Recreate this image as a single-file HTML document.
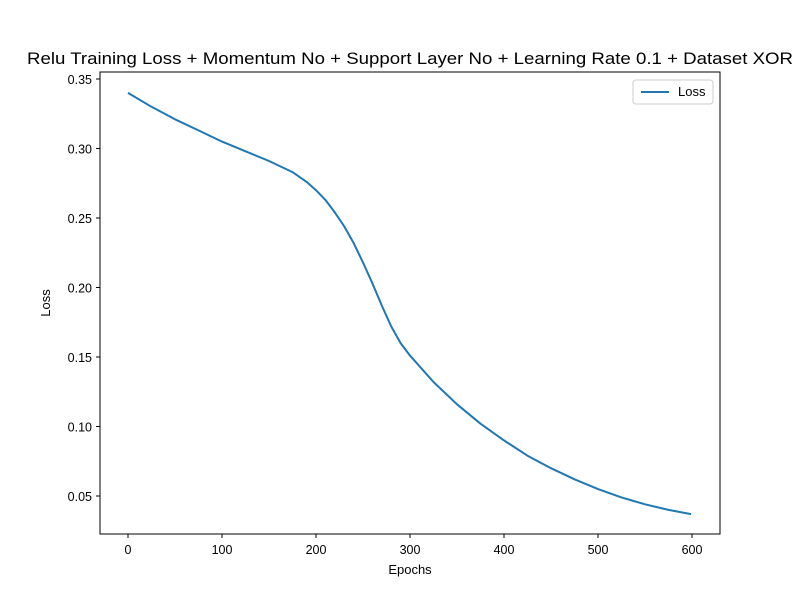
<!DOCTYPE html>
<html><head><meta charset="utf-8"><style>
body{margin:0;background:#fff;}
svg{font-family:"Liberation Sans","DejaVu Sans",sans-serif;}
</style></head><body>
<svg id="chart" width="800" height="600" xmlns="http://www.w3.org/2000/svg">
<rect width="800" height="600" fill="#fff"/>
<text x="410" y="64" text-anchor="middle" font-size="17" textLength="766" lengthAdjust="spacingAndGlyphs">Relu Training Loss + Momentum No + Support Layer No + Learning Rate 0.1 + Dataset XOR</text>
<g id="ticks"></g>
<path id="line" fill="none" stroke="#1f77b4" stroke-width="2" stroke-linejoin="round"/>
<rect x="100" y="72" width="620" height="462" fill="none" stroke="#000" stroke-width="1"/>
<text x="410" y="574" text-anchor="middle" font-size="13">Epochs</text>
<text x="50" y="303" text-anchor="middle" font-size="13" transform="rotate(-90 50 303)">Loss</text>
<g>
<rect x="633" y="80" width="80" height="24" rx="3" fill="#fff" stroke="#ccc"/>
<line x1="641" y1="92" x2="669" y2="92" stroke="#1f77b4" stroke-width="2"/>
<text x="678" y="96" font-size="13">Loss</text>
</g>
</svg>
<script>
const epochs=[0,25,50,75,100,125,150,175,190,200,210,220,230,240,250,260,270,280,290,300,325,350,375,400,425,450,475,500,525,550,575,599];
const loss=[0.340,0.330,0.321,0.313,0.305,0.298,0.291,0.283,0.276,0.270,0.263,0.254,0.244,0.232,0.218,0.203,0.187,0.172,0.160,0.151,0.132,0.116,0.102,0.090,0.079,0.070,0.062,0.055,0.049,0.044,0.040,0.037];
const xTicks=[0,100,200,300,400,500,600];
const yTicks=[0.05,0.10,0.15,0.20,0.25,0.30,0.35];
const xs=v=>128+v*0.94;
const ys=v=>496-(v-0.05)*1390;
const g=document.getElementById('ticks');
const NS='http://www.w3.org/2000/svg';
xTicks.forEach(t=>{
  const l=document.createElementNS(NS,'line');
  l.setAttribute('x1',xs(t));l.setAttribute('x2',xs(t));l.setAttribute('y1',534);l.setAttribute('y2',538);l.setAttribute('stroke','#000');
  
  
  g.appendChild(l);
  const tx=document.createElementNS(NS,'text');
  tx.setAttribute('x',xs(t));tx.setAttribute('y',554);tx.setAttribute('text-anchor','middle');tx.setAttribute('font-size','12.5');
  tx.textContent=t;
  
  
  g.appendChild(tx);
});
yTicks.forEach(t=>{
  const l=document.createElementNS(NS,'line');
  l.setAttribute('x1',96);l.setAttribute('x2',100);l.setAttribute('y1',ys(t));l.setAttribute('y2',ys(t));l.setAttribute('stroke','#000');
  
  
  g.appendChild(l);
  const tx=document.createElementNS(NS,'text');
  tx.setAttribute('x',92);tx.setAttribute('y',ys(t)+5);tx.setAttribute('text-anchor','end');tx.setAttribute('font-size','12.5');
  tx.textContent=t.toFixed(2);
  
  
  g.appendChild(tx);
});
document.getElementById('line').setAttribute('d',epochs.map((e,i)=>(i?'L':'M')+xs(e).toFixed(1)+' '+ys(loss[i]).toFixed(1)).join(' '));
</script>
</body></html>
